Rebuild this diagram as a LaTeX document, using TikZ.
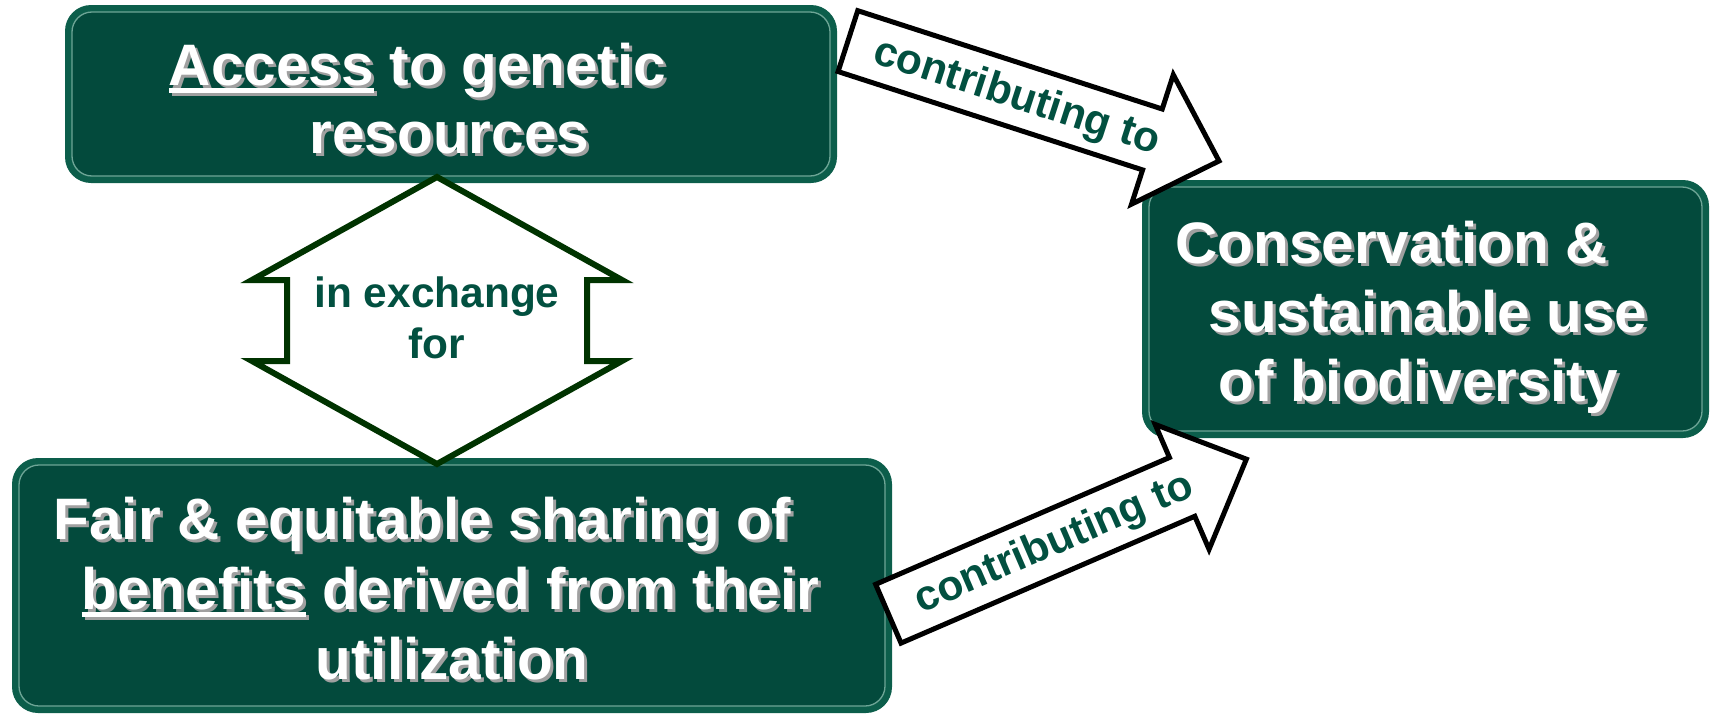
\documentclass[tikz,border=0pt]{standalone}
\usepackage{fontspec}
\setmainfont{Liberation Sans}
\definecolor{boxrim}{RGB}{12,94,75}
\definecolor{boxfill}{RGB}{3,74,60}
\definecolor{boxline}{RGB}{110,165,150}
\definecolor{txtgreen}{RGB}{2,80,64}
\definecolor{xgreen}{RGB}{0,51,0}
\definecolor{shadowgray}{RGB}{160,160,160}
\newcommand\myunder[1]{\setbox0=\hbox{#1}\rlap{\rule[-7.5pt]{\wd0}{4.5pt}}\box0\relax}
\newcommand\shline[4]{%
  \node[bigshadow] at (#2+3,#3+3) {#4};
  \node[bigtext] (#1) at (#2,#3) {#4};}
\tikzset{
  boxouter/.style={fill=boxrim, rounded corners=26pt, inner sep=0pt, draw=none},
  boxinner/.style={fill=boxfill, draw=boxline, line width=1.3pt, rounded corners=20pt, inner sep=0pt},
  bigtext/.style={font=\bfseries\fontsize{58.5}{70}\selectfont, text=white, inner sep=0pt, anchor=base},
  bigshadow/.style={bigtext, text=shadowgray},
  smalltext/.style={font=\bfseries\fontsize{42.4}{50}\selectfont, text=txtgreen, inner sep=0pt},
  blockarrow/.style={draw=black, fill=white, line width=5pt},
  xarrow/.style={draw=xgreen, fill=white, line width=6pt},
}
\begin{document}
\begin{tikzpicture}[x=1pt,y=-1pt]
\useasboundingbox (0,0) rectangle (1714,715);

% boxes
\path[boxouter] (65,5) rectangle (837,183);
\path[boxinner] (72,12) rectangle (830,176);
\node[inner sep=0pt] (accessbox) at (451,94) {};

\path[boxouter] (12,458) rectangle (892,713);
\path[boxinner] (19,465) rectangle (885,706);
\node[inner sep=0pt] (sharebox) at (452,585) {};

\path[boxouter] (1142,180) rectangle (1709,438);
\path[boxinner] (1149,187) rectangle (1702,431);
\node[inner sep=0pt] (consbox) at (1425,309) {};

% box texts
\shline{a1}{417.5}{85}{\myunder{Access} to genetic}
\shline{a2}{449.5}{153}{resources}

\shline{s1}{422.5}{539}{Fair \& equitable sharing of}
\shline{s2}{450.5}{609}{\myunder{benefits} derived from their}
\shline{s3}{452}{679}{utilization}

\shline{c1}{1391.5}{263}{Conservation \&}
\shline{c2}{1428}{332}{sustainable use}
\shline{c3}{1418.5}{401}{of biodiversity}

% exchange arrow
\draw[xarrow] (437,177) -- (622,280) -- (587,280) -- (587,361) -- (622,361)
  -- (437,464) -- (252,361) -- (287,361) -- (287,280) -- (252,280) -- cycle;
\node[smalltext, anchor=base] (ex1) at (437,307) {in exchange};
\node[smalltext, anchor=base] (ex2) at (437,358) {for};

% top contributing arrow
\begin{scope}[shift={(846,40.5)}, rotate=-17.9]
  \draw[blockarrow] (2,-32) -- (322,-32) -- (322,-68) -- (392,0) -- (322,68)
    -- (322,32) -- (2,32) -- cycle;
  \node[smalltext, rotate=-17.9] (ct1) at (180,2) {contributing to};
\end{scope}

% bottom contributing arrow
\begin{scope}[shift={(886.5,614.5)}, rotate=23.35]
  \draw[blockarrow] (2,-32) -- (322,-32) -- (322,-68) -- (392,0) -- (322,68)
    -- (322,32) -- (2,32) -- cycle;
  \node[smalltext, rotate=23.35] (ct2) at (182,2) {contributing to};
\end{scope}
\end{tikzpicture}
\end{document}
